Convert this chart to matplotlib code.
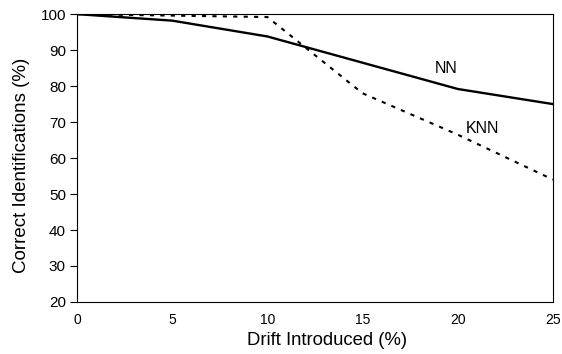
import matplotlib
matplotlib.use('Agg')
import matplotlib.pyplot as plt

plt.rcParams['font.family'] = ['Liberation Sans', 'DejaVu Sans']

drift = [0, 5, 10, 15, 20, 25]
nn = [100, 98.2, 93.8, 86.5, 79.2, 75]
knn = [100, 99.6, 99.2, 78, 66.5, 54]
xticks = [0, 5, 10, 15, 20, 25]
yticks = [20, 30, 40, 50, 60, 70, 80, 90, 100]

fig = plt.figure(figsize=(5.62, 3.54), dpi=100)
ax = fig.add_axes([0.137, 0.147, 0.847, 0.813])

ax.plot(drift, nn, color='black', lw=1.7)
ax.plot(drift, knn, color='black', lw=1.5, ls=(0, (2, 3)))

ax.text(19.4, 85, 'NN', fontsize=11.5, ha='center', va='center')
ax.text(21.3, 68.3, 'KNN', fontsize=11.5, ha='center', va='center')

ax.set_xlim(0, 25)
ax.set_ylim(20, 100)
ax.set_xticks(xticks)
ax.set_yticks(yticks)
ax.tick_params(axis='x', length=0, pad=8, labelsize=10)
ax.tick_params(axis='y', length=5, direction='out', labelsize=11, width=0.8, pad=3)
for s in ax.spines.values():
    s.set_linewidth(0.8)

ax.set_xlabel('Drift Introduced (%)', fontsize=13.3)
ax.set_ylabel('Correct Identifications (%)', fontsize=13.5)
ax.xaxis.set_label_coords(0.525, -0.105)
ax.yaxis.set_label_coords(-0.098, 0.476)

fig.savefig('out.png', dpi=100)
